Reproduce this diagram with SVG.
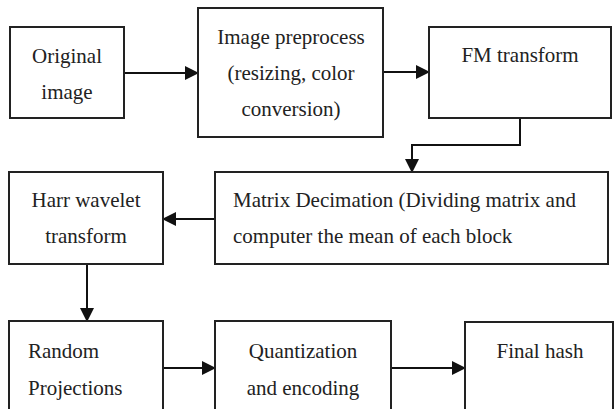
<svg xmlns="http://www.w3.org/2000/svg" width="614" height="409" viewBox="0 0 614 409">
  <defs>
    <marker id="arrow" markerUnits="userSpaceOnUse" markerWidth="14" markerHeight="14" viewBox="0 0 14 14" refX="13" refY="7" orient="auto">
      <path d="M0,0 L14,7 L0,14 Z" fill="#111"/>
    </marker>
  </defs>
  <style>
    .box { fill: #fff; stroke: #222; stroke-width: 2; }
    .lbl { font-family: "Liberation Serif", "Times New Roman", serif; font-size: 21px; fill: #222; }
    .mid { text-anchor: middle; }
    .edge { fill: none; stroke: #111; stroke-width: 2; }
  </style>
  <rect width="614" height="409" fill="#fff"/>

  <g id="connectors">
    <line class="edge" x1="124" y1="73" x2="198" y2="73" marker-end="url(#arrow)"/>
    <line class="edge" x1="383" y1="72" x2="429" y2="72" marker-end="url(#arrow)"/>
    <polyline class="edge" points="520,118 520,145 412,145 412,172" marker-end="url(#arrow)"/>
    <line class="edge" x1="215" y1="219" x2="163" y2="219" marker-end="url(#arrow)"/>
    <line class="edge" x1="87" y1="264" x2="87" y2="321" marker-end="url(#arrow)"/>
    <line class="edge" x1="163" y1="368" x2="215" y2="368" marker-end="url(#arrow)"/>
    <line class="edge" x1="391" y1="368" x2="465" y2="368" marker-end="url(#arrow)"/>
  </g>

  <g id="original-image">
    <rect class="box" x="10" y="27" width="114" height="91"/>
    <text class="lbl mid" x="67" y="63">Original</text>
    <text class="lbl mid" x="67" y="99">image</text>
  </g>

  <g id="image-preprocess">
    <rect class="box" x="198" y="8" width="185" height="129"/>
    <text class="lbl mid" x="291" y="44">Image preprocess</text>
    <text class="lbl mid" x="291" y="80">(resizing, color</text>
    <text class="lbl mid" x="291" y="116">conversion)</text>
  </g>

  <g id="fm-transform">
    <rect class="box" x="429" y="27" width="182" height="91"/>
    <text class="lbl mid" x="520" y="62">FM transform</text>
  </g>

  <g id="matrix-decimation">
    <rect class="box" x="215" y="172" width="393" height="92"/>
    <text class="lbl" x="233" y="207">Matrix Decimation (Dividing matrix and</text>
    <text class="lbl" x="233" y="243">computer the mean of each block</text>
  </g>

  <g id="harr-wavelet">
    <rect class="box" x="9" y="172" width="154" height="92"/>
    <text class="lbl mid" x="86" y="207">Harr wavelet</text>
    <text class="lbl mid" x="86" y="243">transform</text>
  </g>

  <g id="random-projections">
    <rect class="box" x="9" y="321" width="154" height="100"/>
    <text class="lbl" x="28" y="358">Random</text>
    <text class="lbl" x="28" y="395">Projections</text>
  </g>

  <g id="quantization">
    <rect class="box" x="215" y="321" width="176" height="100"/>
    <text class="lbl mid" x="303" y="358">Quantization</text>
    <text class="lbl mid" x="303" y="395">and encoding</text>
  </g>

  <g id="final-hash">
    <rect class="box" x="465" y="322" width="148" height="100"/>
    <text class="lbl mid" x="540" y="358">Final hash</text>
  </g>
</svg>
